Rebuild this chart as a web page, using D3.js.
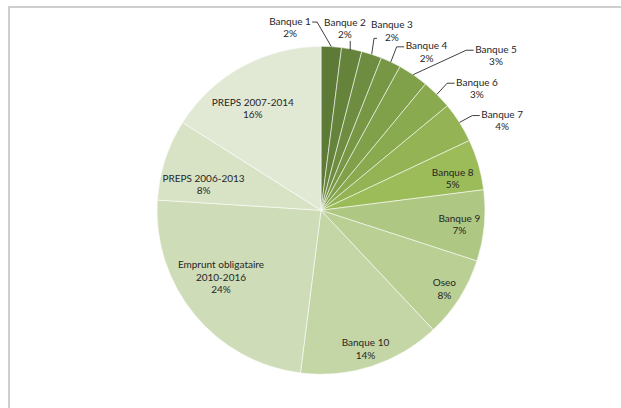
<!DOCTYPE html>
<html>
<head>
<meta charset="utf-8">
<script src="https://cdn.jsdelivr.net/npm/d3@7"></script>
<style>
  html, body { margin: 0; padding: 0; background: #fff; }
  svg { display: block; }
  text { font-family: Lato, "Open Sans", sans-serif; font-size: 10px; fill: #262626; }
</style>
</head>
<body>
<svg id="chart" width="621" height="408"></svg>
<script>
// Financing sources, share of total debt (%)
const categories = [
  "Banque 1", "Banque 2", "Banque 3", "Banque 4", "Banque 5", "Banque 6",
  "Banque 7", "Banque 8", "Banque 9", "Oseo", "Banque 10",
  "Emprunt obligataire 2010-2016", "PREPS 2006-2013", "PREPS 2007-2014"
];
const shares = [2, 2, 2, 2, 3, 3, 4, 5, 7, 8, 14, 24, 8, 16];
const labelLines = [
  ["Banque 1"], ["Banque 2"], ["Banque 3"], ["Banque 4"], ["Banque 5"], ["Banque 6"],
  ["Banque 7"], ["Banque 8"], ["Banque 9"], ["Oseo"], ["Banque 10"],
  ["Emprunt obligataire", "2010-2016"], ["PREPS 2006-2013"], ["PREPS 2007-2014"]
];
const sliceColors = [
  "#5e7a37", "#66833b", "#6f8d40", "#789745", "#81a04a", "#8aaa4f",
  "#93b354", "#9cbc5a", "#aec782", "#b9cf93", "#c4d6a6", "#cedcb7",
  "#d8e3c6", "#e1e9d5"
];

// Label placement: polar position of the label block centre
// (degrees clockwise from 12 o'clock, distance in radii) and,
// for the labels outside the pie, where the leader line attaches.
const labelPlacement = [
  { angle: -9.6, dist: 1.132, attach: "right" },
  { angle: 7.5,  dist: 1.12,  attach: "bottom" },
  { angle: 21.6, dist: 1.175, attach: "left2" },
  { angle: 33.7, dist: 1.16,  attach: "left" },
  { angle: 48.5, dist: 1.425, attach: "left" },
  { angle: 52,   dist: 1.207, attach: "left" },
  { angle: 63.7, dist: 1.232, attach: "left" },
  { angle: 76.4, dist: 0.826 },
  { angle: 95.9, dist: 0.848 },
  { angle: 122.5, dist: 0.892 },
  { angle: 162.2, dist: 0.887 },
  { angle: 236.2, dist: 0.734 },
  { angle: 282.3, dist: 0.733 },
  { angle: 326.1, dist: 0.746 }
];

const width = 621, height = 408;
const cx = 321, cy = 210.3, radius = 164;
const lineHeight = 12.4;

const svg = d3.select("#chart");

// chart area frame
svg.append("rect")
  .attr("x", 9).attr("y", 7)
  .attr("width", width + 40).attr("height", height + 40)
  .attr("fill", "none")
  .attr("stroke", "#c4c4c4")
  .attr("stroke-width", 1.6);

const pie = d3.pie().sort(null).value(d => d)
  .startAngle(0).endAngle(2 * Math.PI);
const arcs = pie(shares);
const arc = d3.arc().innerRadius(0).outerRadius(radius);

const g = svg.append("g").attr("transform", `translate(${cx},${cy})`);

g.selectAll("path.slice")
  .data(arcs)
  .join("path")
  .attr("class", "slice")
  .attr("d", arc)
  .attr("fill", (d, i) => sliceColors[i])
  .attr("stroke", "#ffffff")
  .attr("stroke-opacity", 0.8)
  .attr("stroke-width", 0.7);

const polar = (deg, dist) => {
  const a = deg * Math.PI / 180;
  return [Math.sin(a) * dist, -Math.cos(a) * dist];
};

const labels = g.selectAll("g.label")
  .data(arcs)
  .join("g")
  .attr("class", "label");

labels.each(function (d, i) {
  const place = labelPlacement[i];
  const [lx, ly] = polar(place.angle, place.dist * radius);
  const lines = labelLines[i].concat([d3.format(".0f")(shares[i]) + "%"]);
  const top = ly - (lines.length - 1) * lineHeight / 2;
  const sel = d3.select(this);
  const texts = sel.selectAll("text")
    .data(lines)
    .join("text")
    .attr("x", lx)
    .attr("y", (t, k) => top + k * lineHeight)
    .attr("dy", "0.35em")
    .attr("text-anchor", "middle")
    .text(t => t);

  if (!place.attach) return;

  // leader line from the slice edge to the label
  const mid = (d.startAngle + d.endAngle) / 2;
  const edge = [Math.sin(mid) * radius, -Math.cos(mid) * radius];
  const b1 = texts.nodes()[0].getBBox();
  const b2 = texts.nodes()[1].getBBox();
  let pts;
  if (place.attach === "right") {
    const y = b1.y + b1.height / 2 + 1.5;
    pts = [[b1.x + b1.width + 1, y], [b1.x + b1.width + 6, y], edge];
  } else if (place.attach === "bottom") {
    pts = [[edge[0] - 1.5, b2.y + b2.height + 1], [edge[0] - 1.5, edge[1] + 1]];
  } else if (place.attach === "left2") {
    const y = b2.y + b2.height / 2 + 1.5;
    pts = [[b2.x - 8, y], [b2.x - 11, y], edge];
  } else {
    const y = b1.y + b1.height / 2 + 1.5;
    pts = [[b1.x - 1.5, y], [b1.x - 9, y], edge];
  }
  sel.insert("path", "text")
    .attr("d", d3.line()(pts))
    .attr("fill", "none")
    .attr("stroke", "#404040")
    .attr("stroke-width", 1);
});
</script>
</body>
</html>
